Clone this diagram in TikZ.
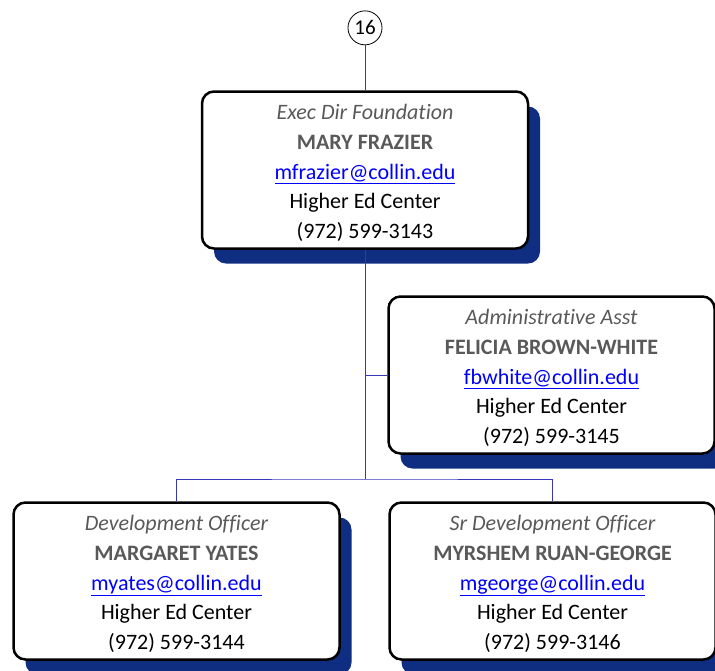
\documentclass[tikz,border=0pt]{standalone}
\usepackage{fontspec}
\setmainfont{Carlito}[Ligatures=NoCommon]
\usetikzlibrary{positioning, shadows}

\definecolor{navy}{RGB}{15,46,130}
\definecolor{wire}{RGB}{55,55,185}
\definecolor{titlegrey}{RGB}{89,89,89}
\definecolor{linkblue}{RGB}{0,0,255}

\newcommand{\card}[5]{%
	\rule{0pt}{21.5pt}{\color{titlegrey}\itshape #1}\\
	{\color{titlegrey}\bfseries #2}\\
	{\color{linkblue}\underline{#3}}\\
	#4\\
	#5}

\begin{document}
\begin{tikzpicture}[x=1pt, y=-1pt,
	person/.style={draw, line width=2.5pt, rounded corners=12pt, fill=white,
		minimum width=326pt, minimum height=157pt, align=center,
		font=\fontsize{22}{29.7}\selectfont,
		drop shadow={shadow xshift=12pt, shadow yshift=-15pt, fill=navy, opacity=1}},
	badge/.style={draw, circle, line width=0.8pt, minimum size=34pt, inner sep=0pt,
		font=\fontsize{21}{24}\selectfont},
	link/.style={draw=wire, line width=1pt}]
	\useasboundingbox (0,0) rectangle (715,670);

	\node (frazier) at (365,170) [person]
		{\card{Exec Dir Foundation}{MARY FRAZIER}{mfrazier@collin.edu}{Higher Ed Center}{(972) 599-3143}};
	\node (num) [badge, above=45pt of frazier] {16};
	\node (brown) at (551.5,375) [person]
		{\card{Administrative Asst}{FELICIA BROWN-WHITE}{fbwhite@collin.edu}{Higher Ed Center}{(972) 599-3145}};
	\node (yates) at (176.5,581) [person]
		{\card{Development Officer}{MARGARET YATES}{myates@collin.edu}{Higher Ed Center}{(972) 599-3144}};
	\node (george) at (552.5,581) [person]
		{\card{Sr Development Officer}{MYRSHEM RUAN-GEORGE}{mgeorge@collin.edu}{Higher Ed Center}{(972) 599-3146}};

	\coordinate (hub) at (365,479);

	\path[link]
		(num) -- (frazier)
		(frazier) -- (hub)
		(frazier |- brown) -- (brown)
		(yates) |- (hub) -| (george)
	;
\end{tikzpicture}
\end{document}
